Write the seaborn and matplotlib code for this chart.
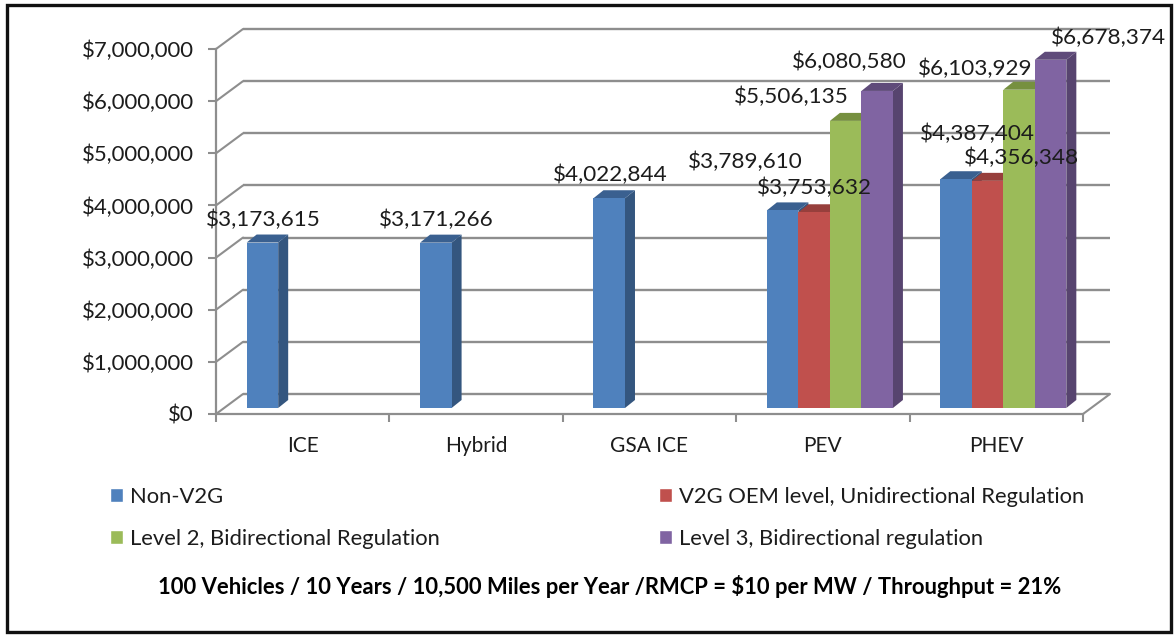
import matplotlib
matplotlib.use("Agg")
import matplotlib.pyplot as plt
import pandas as pd
import seaborn as sns
from matplotlib.patches import Polygon, Rectangle
from matplotlib.transforms import Affine2D
from matplotlib.ticker import FuncFormatter

vehicles = ["ICE", "Hybrid", "GSA ICE", "PEV", "PHEV"]
series = ["Non-V2G", "V2G OEM level, Unidirectional Regulation",
          "Level 2, Bidirectional Regulation", "Level 3, Bidirectional regulation"]
non_v2g = [3173615, 3171266, 4022844, 3789610, 4387404]
oem_level = [None, None, None, 3753632, 4356348]
level_2 = [None, None, None, 5506135, 6103929]
level_3 = [None, None, None, 6080580, 6678374]
footer = "100 Vehicles / 10 Years / 10,500 Miles per Year /RMCP = $10 per MW / Throughput = 21%"
colors = ["#4F81BD", "#C0504D", "#9BBB59", "#8064A2"]
side_colors = ["#34567F", "#8A3A37", "#6F8741", "#57446F"]
top_colors = ["#3A6090", "#973F3C", "#76903F", "#5F4B7A"]

rows = []
for name, vals in zip(series, [non_v2g, oem_level, level_2, level_3]):
    for v, val in zip(vehicles, vals):
        if val is not None:
            rows.append({"vehicle": v, "series": name, "value": val})
df = pd.DataFrame(rows)

W, H = 1175, 636
GRID = "#8E8E8E"
TXT = "#1C1C1C"
sns.set_theme(style="white")
plt.rcParams["font.family"] = "Lato"

fig = plt.figure(figsize=(W / 100, H / 100), dpi=100, facecolor="white")
ax = fig.add_axes([216 / W, 1 - 414 / H, 867 / W, 365 / H])
ax.patch.set_visible(False)

sns.barplot(data=df, x="vehicle", y="value", hue="series", order=vehicles, hue_order=series,
            palette=colors, width=0.727, gap=0, dodge=True, saturation=1, errorbar=None,
            ax=ax, legend=True, zorder=5)
ax.set_xlim(-0.5, 4.5)
ax.set_ylim(0, 7000000)
ax.set_xlabel("")
ax.set_ylabel("")

# back wall and side wall
back = ax.transData + Affine2D().translate(27, 20)
for v in range(0, 7000001, 1000000):
    ax.plot([-0.5, 4.5], [v, v], color=GRID, lw=1.7, transform=back, clip_on=False, zorder=1, solid_capstyle="butt")
    x0, y0 = ax.transData.transform((-0.5, v))
    ax.plot([x0, x0 + 27], [y0, y0 + 20], color=GRID, lw=1.5, transform=None, clip_on=False, zorder=1)
x1, y1 = ax.transData.transform((4.5, 0))
ax.plot([x1, x1 + 27], [y1, y1 + 20], color=GRID, lw=1.5, transform=None, clip_on=False, zorder=1)

# bars with depth
shift = ax.transData + Affine2D().translate(7, 6)
dx = 10 / (867 / 5)
dy = 8 / (365 / 7000000)
for h, cont in enumerate(ax.containers):
    for bar in cont:
        x, w, t = bar.get_x(), bar.get_width(), bar.get_height()
        if not t == t:
            continue
        bar.set_transform(shift)
        bar.set_zorder(5 + h)
        bar.set_edgecolor("none")
        bar.set_clip_on(False)
        ax.add_patch(Polygon([(x + w, 0), (x + w + dx, dy), (x + w + dx, t + dy), (x + w, t)],
                             fc=side_colors[h], ec="none", transform=shift, zorder=4.5 + h, clip_on=False))
        ax.add_patch(Polygon([(x, t), (x + w, t), (x + w + dx, t + dy), (x + dx, t + dy)],
                             fc=top_colors[h], ec="none", transform=shift, zorder=4.5 + h, clip_on=False))

# data labels (hand-placed in the original), pixel offsets from each bar's top centre
label_offsets = [[(1, 23), (1, 23), (1, 23), (-37, 49), (21, 45)],
                 [(0, 24), (34, 23)],
                 [(-54, 24), (-44, 21)],
                 [(-28, 29), (58, 22)]]
for h, cont in enumerate(ax.containers):
    bars = [b for b in cont if b.get_height() == b.get_height()]
    for bar, o in zip(bars, label_offsets[h]):
        xc = bar.get_x() + bar.get_width() / 2
        px, py = shift.transform((xc, bar.get_height()))
        ax.text(px + o[0], py + o[1], f"${bar.get_height():,.0f}", transform=None, ha="center", va="center",
                fontsize=16.2, color=TXT, zorder=20, clip_on=False)

# axes furniture
ax.yaxis.set_major_locator(plt.MultipleLocator(1000000))
ax.yaxis.set_major_formatter(FuncFormatter(lambda v, _: f"${v:,.0f}"))
ax.set_xticks([-0.5 + i for i in range(6)], minor=True)
ax.tick_params(axis="x", which="minor", length=6, width=1.5, color=GRID, direction="out", bottom=True)
ax.tick_params(axis="x", which="major", length=0, pad=16, labelsize=15, labelcolor=TXT)
ax.tick_params(axis="y", which="major", length=6, width=1.5, color=GRID, left=True, pad=10, labelsize=15.9, labelcolor=TXT)
sns.despine(ax=ax, top=True, right=True)
for s in ("left", "bottom"):
    ax.spines[s].set_color(GRID)
    ax.spines[s].set_linewidth(1.6)
    ax.spines[s].set_zorder(3)

# legend: two rows read left to right
old = ax.get_legend()
handles, labels = list(old.legend_handles), [t.get_text() for t in old.get_texts()]
old.remove()
order = [0, 2, 1, 3]
ax.legend([handles[i] for i in order], [labels[i] for i in order], loc="upper left",
          bbox_to_anchor=(110 / W, 1 - 487 / H), bbox_transform=fig.transFigure,
          ncols=2, frameon=False, fontsize=15.85, handlelength=0.6, handleheight=0.6,
          handletextpad=0.32, columnspacing=9.95, labelspacing=1.0, borderpad=0, borderaxespad=0,
          labelcolor=TXT)

fig.text(610 / W, 1 - 586 / H, footer, ha="center", va="center", fontsize=15.8, fontweight="bold", color="black")

# frame
fig.add_artist(Rectangle((7 / W, 1 - 632 / H), (1171 - 7) / W, (632 - 5) / H, transform=fig.transFigure,
                         fc="none", ec="#111111", lw=2.4))
fig.savefig("out.png", dpi=100)
